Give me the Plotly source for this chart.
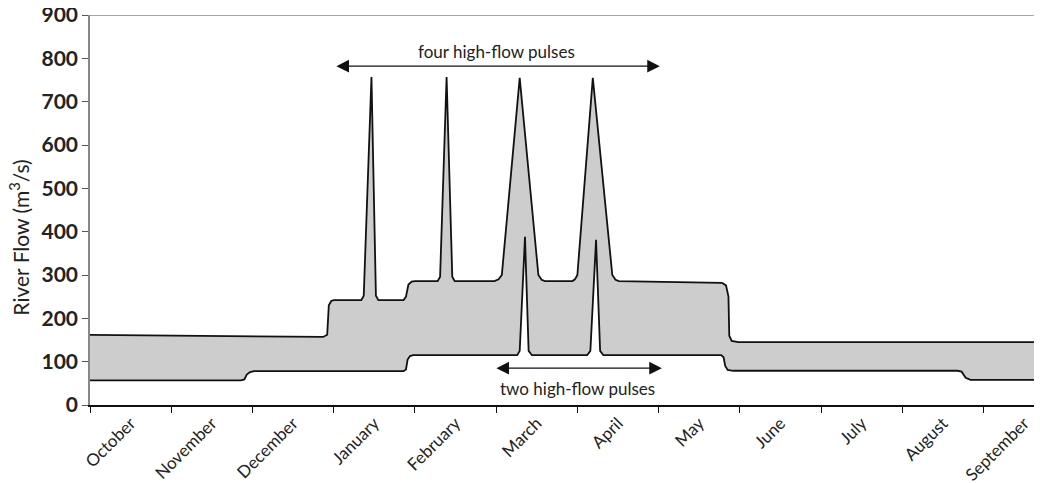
import plotly.graph_objects as go

# Month categories (each spans one unit on the x axis; 0 = start of October)
months = ["October", "November", "December", "January", "February", "March",
          "April", "May", "June", "July", "August", "September"]

# Upper flow envelope (month position, m3/s)
upper_month = [0.00, 2.50, 2.87, 2.92, 2.94, 2.97, 3.00,
               3.34, 3.37, 3.465, 3.52, 3.55,
               3.86, 3.89, 3.92, 3.96, 4.00,
               4.28, 4.31, 4.39, 4.46, 4.49,
               4.98, 5.03, 5.07, 5.29, 5.52, 5.56, 5.60,
               5.94, 5.97, 6.00, 6.19, 6.43, 6.47, 6.51,
               7.00, 7.78, 7.83, 7.86, 7.87, 7.90, 7.98, 11.72]
upper_flow = [162, 159, 157, 162, 230, 240, 242,
              242, 252, 757, 252, 242,
              242, 250, 278, 285, 286,
              286, 296, 757, 296, 286,
              286, 290, 300, 755, 300, 289, 286,
              286, 290, 300, 755, 300, 289, 286,
              285, 282, 276, 250, 160, 148, 145, 145]

# Lower flow envelope
lower_month = [0.00, 1.86, 1.90, 1.93, 1.97, 2.02,
               3.86, 3.89, 3.91, 3.94, 3.98,
               5.26, 5.29, 5.355, 5.40, 5.44,
               6.12, 6.16, 6.23, 6.28, 6.32,
               7.77, 7.80, 7.82, 7.85, 7.92,
               10.68, 10.73, 10.78, 10.84, 11.72]
lower_flow = [57, 57, 59, 70, 76, 78,
              78, 82, 105, 113, 115,
              115, 125, 388, 125, 115,
              115, 125, 381, 125, 115,
              115, 110, 90, 81, 79,
              79, 77, 63, 58, 58]

y_ticks = [0, 100, 200, 300, 400, 500, 600, 700, 800, 900]

font_family = "Lato, 'Open Sans', sans-serif"
fig = go.Figure()
fig.add_trace(go.Scatter(x=lower_month, y=lower_flow, mode="lines",
                         line=dict(color="#111111", width=1.8), hoverinfo="skip"))
fig.add_trace(go.Scatter(x=upper_month, y=upper_flow, mode="lines", fill="tonexty",
                         fillcolor="#cdcdcd",
                         line=dict(color="#111111", width=1.8), hoverinfo="skip"))

# page body has an 8px default margin; figure sized so the plot lands in place
fig.update_layout(
    width=1034, height=475,
    margin=dict(l=82, r=0, t=7, b=78, autoexpand=False),
    paper_bgcolor="white", plot_bgcolor="white",
    showlegend=False,
    font=dict(family=font_family, color="#222222"),
)
fig.update_xaxes(
    range=[0, 11.72], automargin=False, ticklabeloverflow="allow",
    tickvals=[i + 0.5 for i in range(len(months))],
    ticktext=months,
    tickangle=-45,
    ticks="", showgrid=False, zeroline=False,
    showline=True, linecolor="#111111", linewidth=1.5,
    tickfont=dict(size=17, color="#222222"),
    minor=dict(tickvals=list(range(len(months))), ticks="outside",
               ticklen=6, tickcolor="#111111", tickwidth=1.2, showgrid=False),
)
fig.update_yaxes(
    range=[0, 900], tickvals=y_ticks, automargin=False, ticklabeloverflow="allow",
    ticks="outside", ticklen=6, tickcolor="#555555", tickwidth=1.2,
    showgrid=False, zeroline=False,
    showline=True, linecolor="#888888", linewidth=1.5,
    tickfont=dict(size=21, color="#222222", weight="bold"),
)

# top border line
fig.add_shape(type="line", xref="paper", yref="y", x0=0, x1=1, y0=900, y1=900,
              line=dict(color="#888888", width=1.5))

# y-axis title
fig.add_annotation(xref="paper", yref="paper", x=-0.074, y=0.428,
                   xanchor="center", yanchor="middle",
                   text="River Flow (m<sup>3</sup>/s)", textangle=-90,
                   showarrow=False, font=dict(size=21, color="#222222"))

# arrows
fig.add_annotation(x=7.015, y=782, ax=3.015, ay=782, xref="x", yref="y",
                   axref="x", ayref="y", text="", showarrow=True,
                   arrowhead=2, arrowside="end+start", arrowsize=1.8,
                   arrowwidth=1.4, arrowcolor="#111111")
fig.add_annotation(x=5.01, y=815, text="four high-flow pulses", showarrow=False,
                   font=dict(size=17, color="#222222"))
fig.add_annotation(x=7.04, y=85, ax=4.985, ay=85, xref="x", yref="y",
                   axref="x", ayref="y", text="", showarrow=True,
                   arrowhead=2, arrowside="end+start", arrowsize=1.8,
                   arrowwidth=1.4, arrowcolor="#111111")
fig.add_annotation(x=6.0, y=39, text="two high-flow pulses", showarrow=False,
                   font=dict(size=17, color="#222222"))

fig.write_html("out.html")
